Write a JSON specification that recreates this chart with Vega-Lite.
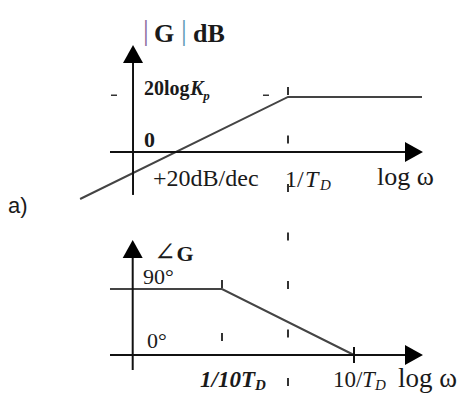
{
  "$schema": "https://vega.github.io/schema/vega-lite/v6.json",
  "width": 467,
  "height": 396,
  "autosize": {"type": "fit", "contains": "padding"},
  "padding": 0,
  "background": "white",
  "config": {"view": {"stroke": null}},
  "datasets": {
    "magAxes": [
      {"x": -2.348, "y": -26.5, "x2": -2.348, "y2": 58},
      {"x": -2.697, "y": 0, "x2": 1.9, "y2": 0}
    ],
    "magArrows": [
      {"x": -2.348, "y": 66, "dir": "up"},
      {"x": 2.045, "y": 0, "dir": "right"}
    ],
    "magCurve": [
      {"x": -3.15, "y": -29},
      {"x": 0, "y": 34},
      {"x": 2.03, "y": 34}
    ],
    "magDash": [{"x": -2.682, "y": 35, "x2": -0.273, "y2": 35}],
    "magBold26": [
      {"x": -2.03, "y": 67.9, "t": "G"},
      {"x": -1.44, "y": 67.9, "t": "dB"}
    ],
    "magBars": [
      {"x": -2.197, "y": 69, "t": "|", "side": "left"},
      {"x": -1.621, "y": 69, "t": "|", "side": "right"}
    ],
    "magBold18": [
      {"x": -2.182, "y": 35.2, "t": "20log"}
    ],
    "magBoldItal18": [
      {"x": -1.48, "y": 35.2, "t": "K"}
    ],
    "magSubP": [
      {"x": -1.285, "y": 32.2, "t": "p"}
    ],
    "magZero": [
      {"x": -2.182, "y": 3.1, "t": "0"}
    ],
    "magReg24": [
      {"x": -2.045, "y": -21, "t": "+20dB/dec"},
      {"x": -0.045, "y": -21.6, "t": "1/"}
    ],
    "magLog": [
      {"x": 1.348, "y": -20.4, "t": "log ω"}
    ],
    "magItal24": [
      {"x": 0.258, "y": -21.6, "t": "T"}
    ],
    "magSubD": [
      {"x": 0.485, "y": -23.5, "t": "D"}
    ],
    "phAxes": [
      {"x": -2.353, "y": -20.45, "x2": -2.353, "y2": 143},
      {"x": -2.697, "y": 0, "x2": 1.9, "y2": 0},
      {"x": 1, "y": -10.9, "x2": 1, "y2": 10.9}
    ],
    "phArrows": [
      {"x": -2.353, "y": 156.8, "dir": "up"},
      {"x": 2.045, "y": 0, "dir": "right"}
    ],
    "phCurve": [
      {"x": -2.697, "y": 90},
      {"x": -1, "y": 90},
      {"x": 1, "y": 0}
    ],
    "dashMain": [{"x": 0, "y": 365.5, "x2": 0, "y2": -54.5}],
    "dashLow": [{"x": -1, "y": 102.3, "x2": -1, "y2": 17.7}],
    "phAngle": [{"x": -2.03, "y": 128.5, "t": "∠"}],
    "phBold22": [{"x": -1.69, "y": 128.5, "t": "G"}],
    "phReg22": [
      {"x": -2.197, "y": 97, "t": "90°"},
      {"x": -2.136, "y": 9.55, "t": "0°"}
    ],
    "phBoldItal23": [{"x": -1.333, "y": -43.6, "t": "1/10T"}],
    "phBoldItalSub": [{"x": -0.5, "y": -47.7, "t": "D"}],
    "phReg23": [{"x": 0.682, "y": -43.6, "t": "10/"}],
    "phItal23": [{"x": 1.121, "y": -43.6, "t": "T"}],
    "phItalSub": [{"x": 1.318, "y": -47.7, "t": "D"}],
    "phLog": [{"x": 1.667, "y": -43.6, "t": "log ω"}],
    "label": [{"x": -4.242, "y": 193.6, "t": "a)"}]
  },
  "encoding": {
    "x": {"field": "x", "type": "quantitative", "scale": {"domain": [-4.3636, 2.7121], "nice": false, "zero": false}, "axis": null}
  },
  "resolve": {"scale": {"y": "independent"}},
  "layer": [
    {
      "encoding": {
        "y": {"field": "y", "type": "quantitative", "scale": {"domain": [-150.62, 93.83], "nice": false, "zero": false}, "axis": null}
      },
      "layer": [
        {
          "data": {"name": "magCurve"},
          "mark": {"type": "line", "color": "#444444", "strokeWidth": 2},
          "encoding": {}
        },
        {
          "data": {"name": "magAxes"},
          "mark": {"type": "rule", "color": "#111111", "strokeWidth": 2},
          "encoding": {"x2": {"field": "x2"}, "y2": {"field": "y2"}}
        },
        {
          "data": {"name": "magDash"},
          "mark": {"type": "rule", "color": "#333333", "strokeWidth": 1.5, "strokeDash": [6, 146]},
          "encoding": {"x2": {"field": "x2"}, "y2": {"field": "y2"}}
        },
        {
          "data": {"name": "magArrows"},
          "mark": {"type": "point", "filled": true, "opacity": 1, "color": "#000000", "size": 400, "strokeWidth": 0},
          "encoding": {"shape": {"field": "dir", "type": "nominal", "scale": {"domain": ["up", "right"], "range": ["M0,0L-1,1.8L1,1.8Z", "M0,0L-1.8,-1L-1.8,1Z"]}, "legend": null}}
        },
        {
          "data": {"name": "magBars"},
          "mark": {"type": "text", "align": "left", "baseline": "alphabetic", "font": "Liberation Serif", "fontSize": 29},
          "encoding": {"text": {"field": "t"}, "color": {"field": "side", "type": "nominal", "scale": {"domain": ["left", "right"], "range": ["#8a6c9e", "#5b98b5"]}, "legend": null}}
        },
        {
          "data": {"name": "magBold26"},
          "mark": {"type": "text", "align": "left", "baseline": "alphabetic", "font": "Liberation Serif", "fontSize": 26, "fontWeight": "bold", "color": "#1a1a1a"},
          "encoding": {"text": {"field": "t"}}
        },
        {
          "data": {"name": "magBold18"},
          "mark": {"type": "text", "align": "left", "baseline": "alphabetic", "font": "Liberation Serif", "fontSize": 20, "fontWeight": "bold", "color": "#1a1a1a"},
          "encoding": {"text": {"field": "t"}}
        },
        {
          "data": {"name": "magBoldItal18"},
          "mark": {"type": "text", "align": "left", "baseline": "alphabetic", "font": "Liberation Serif", "fontSize": 20, "fontWeight": "bold", "fontStyle": "italic", "color": "#1a1a1a"},
          "encoding": {"text": {"field": "t"}}
        },
        {
          "data": {"name": "magSubP"},
          "mark": {"type": "text", "align": "left", "baseline": "alphabetic", "font": "Liberation Serif", "fontSize": 13, "fontWeight": "bold", "fontStyle": "italic", "color": "#1a1a1a"},
          "encoding": {"text": {"field": "t"}}
        },
        {
          "data": {"name": "magZero"},
          "mark": {"type": "text", "align": "left", "baseline": "alphabetic", "font": "Liberation Serif", "fontSize": 22, "fontWeight": "bold", "color": "#1a1a1a"},
          "encoding": {"text": {"field": "t"}}
        },
        {
          "data": {"name": "magReg24"},
          "mark": {"type": "text", "align": "left", "baseline": "alphabetic", "font": "Liberation Serif", "fontSize": 24, "color": "#1a1a1a"},
          "encoding": {"text": {"field": "t"}}
        },
        {
          "data": {"name": "magLog"},
          "mark": {"type": "text", "align": "left", "baseline": "alphabetic", "font": "Liberation Serif", "fontSize": 26, "color": "#1a1a1a"},
          "encoding": {"text": {"field": "t"}}
        },
        {
          "data": {"name": "magItal24"},
          "mark": {"type": "text", "align": "left", "baseline": "alphabetic", "font": "Liberation Serif", "fontSize": 24, "fontStyle": "italic", "color": "#1a1a1a"},
          "encoding": {"text": {"field": "t"}}
        },
        {
          "data": {"name": "magSubD"},
          "mark": {"type": "text", "align": "left", "baseline": "alphabetic", "font": "Liberation Serif", "fontSize": 15, "fontStyle": "italic", "color": "#1a1a1a"},
          "encoding": {"text": {"field": "t"}}
        }
      ]
    },
    {
      "encoding": {
        "y": {"field": "y", "type": "quantitative", "scale": {"domain": [-55.9, 484.1], "nice": false, "zero": false}, "axis": null}
      },
      "layer": [
        {
          "data": {"name": "phCurve"},
          "mark": {"type": "line", "color": "#444444", "strokeWidth": 2},
          "encoding": {}
        },
        {
          "data": {"name": "phAxes"},
          "mark": {"type": "rule", "color": "#111111", "strokeWidth": 2},
          "encoding": {"x2": {"field": "x2"}, "y2": {"field": "y2"}}
        },
        {
          "data": {"name": "dashMain"},
          "mark": {"type": "rule", "color": "#333333", "strokeWidth": 2, "strokeDash": [8, 40.5]},
          "encoding": {"x2": {"field": "x2"}, "y2": {"field": "y2"}}
        },
        {
          "data": {"name": "dashLow"},
          "mark": {"type": "rule", "color": "#333333", "strokeWidth": 2, "strokeDash": [8, 45]},
          "encoding": {"x2": {"field": "x2"}, "y2": {"field": "y2"}}
        },
        {
          "data": {"name": "phArrows"},
          "mark": {"type": "point", "filled": true, "opacity": 1, "color": "#000000", "size": 400, "strokeWidth": 0},
          "encoding": {"shape": {"field": "dir", "type": "nominal", "scale": {"domain": ["up", "right"], "range": ["M0,0L-1,1.7L1,1.7Z", "M0,0L-2,-1L-2,1Z"]}, "legend": null}}
        },
        {
          "data": {"name": "phAngle"},
          "mark": {"type": "text", "align": "left", "baseline": "alphabetic", "font": "DejaVu Serif", "fontSize": 26, "color": "#1a1a1a"},
          "encoding": {"text": {"field": "t"}}
        },
        {
          "data": {"name": "phBold22"},
          "mark": {"type": "text", "align": "left", "baseline": "alphabetic", "font": "Liberation Serif", "fontSize": 22, "fontWeight": "bold", "color": "#1a1a1a"},
          "encoding": {"text": {"field": "t"}}
        },
        {
          "data": {"name": "phReg22"},
          "mark": {"type": "text", "align": "left", "baseline": "alphabetic", "font": "Liberation Serif", "fontSize": 22, "color": "#1a1a1a"},
          "encoding": {"text": {"field": "t"}}
        },
        {
          "data": {"name": "phBoldItal23"},
          "mark": {"type": "text", "align": "left", "baseline": "alphabetic", "font": "Liberation Serif", "fontSize": 23, "fontWeight": "bold", "fontStyle": "italic", "color": "#1a1a1a"},
          "encoding": {"text": {"field": "t"}}
        },
        {
          "data": {"name": "phBoldItalSub"},
          "mark": {"type": "text", "align": "left", "baseline": "alphabetic", "font": "Liberation Serif", "fontSize": 15, "fontWeight": "bold", "fontStyle": "italic", "color": "#1a1a1a"},
          "encoding": {"text": {"field": "t"}}
        },
        {
          "data": {"name": "phReg23"},
          "mark": {"type": "text", "align": "left", "baseline": "alphabetic", "font": "Liberation Serif", "fontSize": 23, "color": "#1a1a1a"},
          "encoding": {"text": {"field": "t"}}
        },
        {
          "data": {"name": "phItal23"},
          "mark": {"type": "text", "align": "left", "baseline": "alphabetic", "font": "Liberation Serif", "fontSize": 23, "fontStyle": "italic", "color": "#1a1a1a"},
          "encoding": {"text": {"field": "t"}}
        },
        {
          "data": {"name": "phItalSub"},
          "mark": {"type": "text", "align": "left", "baseline": "alphabetic", "font": "Liberation Serif", "fontSize": 15, "fontStyle": "italic", "color": "#1a1a1a"},
          "encoding": {"text": {"field": "t"}}
        },
        {
          "data": {"name": "phLog"},
          "mark": {"type": "text", "align": "left", "baseline": "alphabetic", "font": "Liberation Serif", "fontSize": 27, "color": "#1a1a1a"},
          "encoding": {"text": {"field": "t"}}
        },
        {
          "data": {"name": "label"},
          "mark": {"type": "text", "align": "left", "baseline": "alphabetic", "font": "Liberation Sans", "fontSize": 22, "color": "#1a1a1a"},
          "encoding": {"text": {"field": "t"}}
        }
      ]
    }
  ]
}
